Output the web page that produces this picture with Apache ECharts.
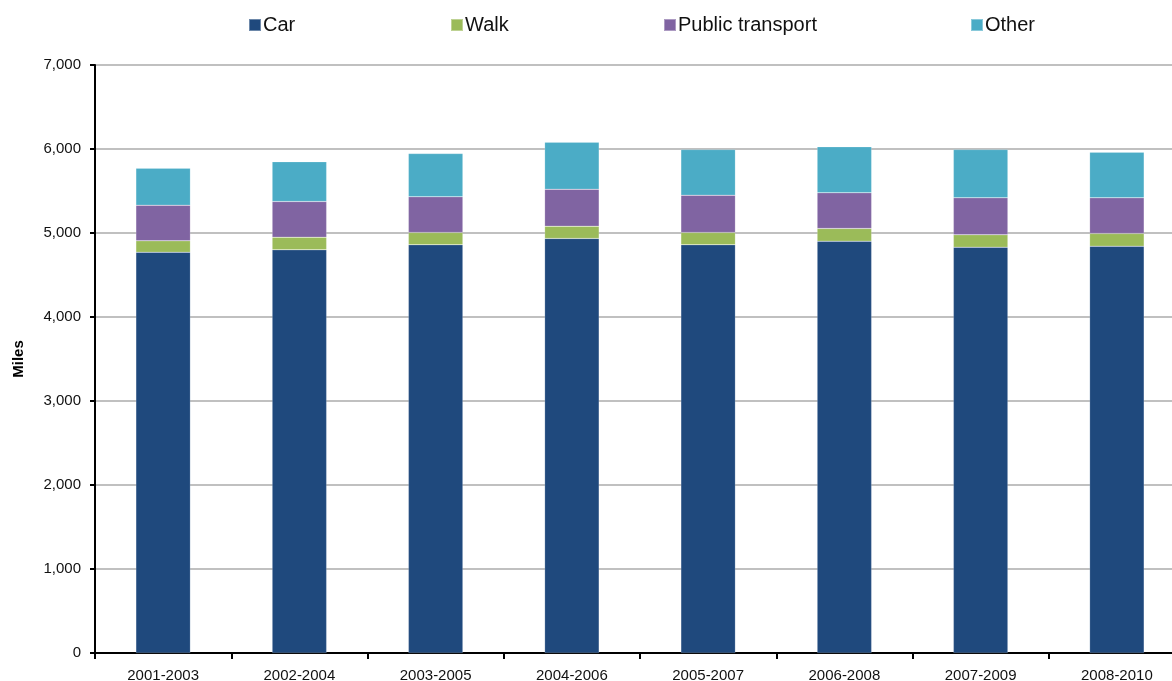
<!DOCTYPE html>
<html>
<head>
<meta charset="utf-8">
<script src="https://cdn.jsdelivr.net/npm/echarts@6/dist/echarts.min.js"></script>
<style>html,body{margin:0;padding:0;background:#fff}#c{width:1172px;height:681px}</style>
</head>
<body>
<div id="c"></div>
<script>
const categories = ['2001-2003','2002-2004','2003-2005','2004-2006','2005-2007','2006-2008','2007-2009','2008-2010'];
const car = [4771, 4800, 4860, 4935, 4860, 4903, 4831, 4843];
const walk = [136, 150, 146, 146, 146, 151, 148, 151];
const publicTransport = [424, 425, 425, 440, 444, 425, 440, 425];
const other = [440, 473, 515, 560, 544, 547, 575, 543];
const seriesNames = ['Car','Walk','Public transport','Other'];
const colors = ['#1F497D','#9BBB59','#8064A2','#4BACC6'];
const yTicks = [0,1000,2000,3000,4000,5000,6000,7000];

const chart = echarts.init(document.getElementById('c'));
const font = 'Liberation Sans, Arial, sans-serif';
const legendLefts = [248, 450, 663, 970];
const legends = seriesNames.map((n,i)=>({
  data:[n], left: legendLefts[i], top: 15, padding:0, itemWidth: 12, itemHeight: 12, itemGap: 0,
  icon:'rect', selectedMode:false,
  textStyle:{fontFamily:font, fontSize:20, color:'#111', padding:[0,0,0,-3]}
}));
const dataArr = [car, walk, publicTransport, other];
chart.setOption({
  animation:false,
  legend: legends,
  grid:{left:95, width:1090, top:65, bottom:28, containLabel:false, outerBoundsMode:'none'},
  xAxis:{
    type:'category', data:categories,
    axisLine:{lineStyle:{color:'#000', width:2}},
    axisTick:{show:true, length:6, lineStyle:{color:'#000', width:2}},
    axisLabel:{fontFamily:font, fontSize:15, color:'#111', margin:15}
  },
  yAxis:{
    type:'value', min:yTicks[0], max:yTicks[yTicks.length-1], interval:1000,
    name:'Miles', nameLocation:'middle', nameGap:69,
    nameTextStyle:{fontFamily:font, fontSize:15, fontWeight:'bold', color:'#000'},
    axisLine:{show:true, lineStyle:{color:'#000', width:2}},
    axisTick:{show:true, length:5, lineStyle:{color:'#000', width:2}},
    axisLabel:{fontFamily:font, fontSize:15, color:'#111', margin:14,
      formatter:v=>v.toLocaleString('en-US')},
    splitLine:{lineStyle:{color:'#c0c0c0', width:2}}
  },
  series: seriesNames.map((n,i)=>({
    name:n, type:'bar', stack:'total', data:dataArr[i], barWidth:'40%',
    itemStyle:{color:colors[i], borderColor:'rgba(255,255,255,0.35)', borderWidth:0.5}
  }))
});
</script>
</body>
</html>
